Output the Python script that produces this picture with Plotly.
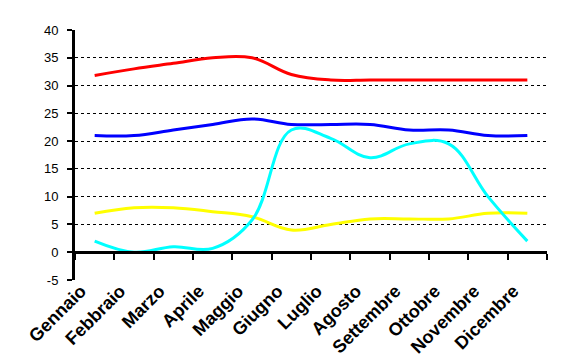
import plotly.graph_objects as go

months = ["Gennaio", "Febbraio", "Marzo", "Aprile", "Maggio", "Giugno",
          "Luglio", "Agosto", "Settembre", "Ottobre", "Novembre", "Dicembre"]
red_vals = [31.8, 33, 34, 35, 35, 32, 31, 31, 31, 31, 31, 31]
blue_vals = [21, 21, 22, 23, 24, 23, 23, 23, 22, 22, 21, 21]
cyan_vals = [2, 0, 1, 0.7, 5.8, 22, 20.5, 17, 19.5, 19.5, 10, 2]
yellow_vals = [7, 8, 8, 7.3, 6.4, 4, 5, 6, 6, 6, 7, 7]
y_ticks = [-5, 0, 5, 10, 15, 20, 25, 30, 35, 40]
y_tick_labels = ["-5", "0", "5", "10", "15", "20", "25", "30", "35", "40"]

xs = list(range(len(months)))
fig = go.Figure()
for vals, col in [(red_vals, "#FF0000"), (blue_vals, "#0000FF"),
                  (yellow_vals, "#FFFF00"), (cyan_vals, "#00FFFF")]:
    fig.add_trace(go.Scatter(x=xs, y=vals, mode="lines",
                             line=dict(color=col, width=3, shape="spline", smoothing=1.1),
                             showlegend=False, hoverinfo="skip"))
# invisible trace for label axis
fig.add_trace(go.Scatter(x=xs, y=[None]*len(xs), xaxis="x2", mode="lines",
                         showlegend=False, hoverinfo="skip"))

label_shift = 0.35
bounds = [i - 0.5 for i in range(len(months) + 1)]
rng = [-0.5, len(months) - 0.5]
fig.update_layout(
    width=563, height=362,
    margin=dict(l=75, r=16, t=30, b=82),
    paper_bgcolor="white", plot_bgcolor="white",
    font=dict(family="Liberation Sans, Arial", color="black"),
    xaxis=dict(range=rng, anchor="free", position=5/45, automargin=False,
               showline=True, linecolor="black", linewidth=3,
               tickmode="array", tickvals=bounds, showticklabels=False,
               ticks="outside", ticklen=6, tickwidth=2, tickcolor="black",
               showgrid=False, zeroline=False),
    xaxis2=dict(range=rng, overlaying="x", anchor="y", side="bottom", automargin=False,
                tickmode="array", tickvals=[i - label_shift for i in xs], ticktext=months,
                tickangle=-45, ticks="", showline=False, showgrid=False,
                zeroline=False, ticklabelstandoff=-4,
                tickfont=dict(family="Liberation Sans, Arial", size=18, color="black", weight="bold")),
    yaxis=dict(range=[-5, 40], tickmode="array", tickvals=y_ticks, ticktext=y_tick_labels,
               automargin=False,
               showline=True, linecolor="black", linewidth=3,
               ticks="outside", ticklen=5, tickwidth=2, tickcolor="black",
               showgrid=True, gridcolor="black", gridwidth=1, griddash="3px,3px",
               zeroline=False, ticklabelstandoff=6,
               tickfont=dict(size=13, color="black")),
)
fig.write_html("out.html")
